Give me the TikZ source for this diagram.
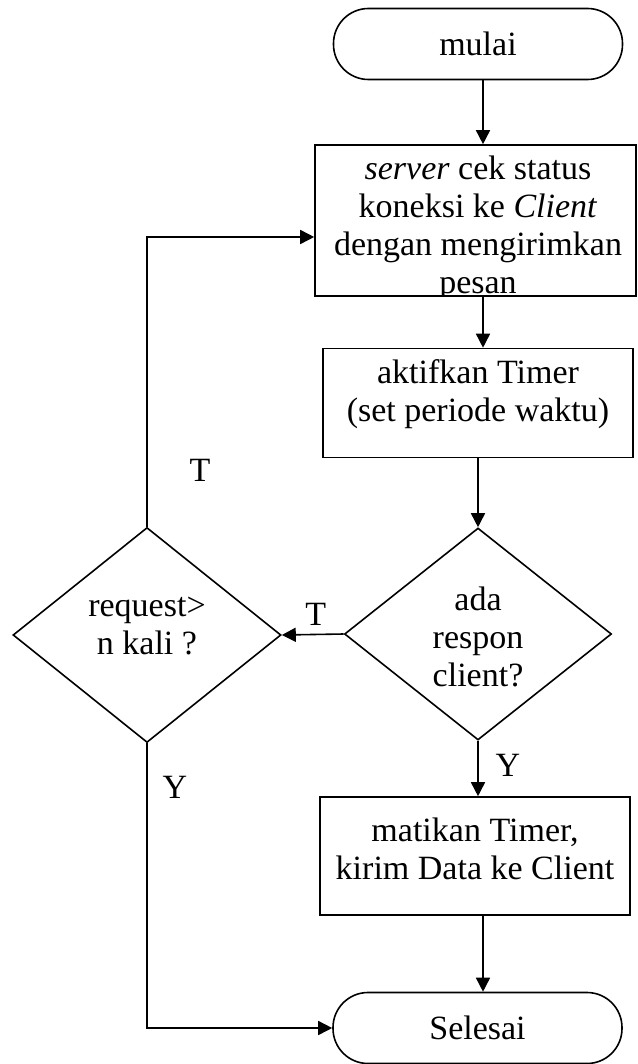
\documentclass[tikz,border=0pt]{standalone}
\usepackage{fontspec}
\setmainfont{Liberation Serif}
\usetikzlibrary{shapes.geometric,arrows.meta}
\begin{document}
\begin{tikzpicture}[x=1pt,y=-1pt,
  font=\fontsize{34}{38}\selectfont,
  box/.style={draw, line width=1.6pt, align=center, inner sep=0pt},
  term/.style={draw, line width=1.6pt, rounded corners=35pt, minimum width=289pt, minimum height=71pt, inner sep=0pt},
  dec/.style={draw, diamond, line width=1.6pt, inner sep=0pt},
  txt/.style={align=center, inner sep=0pt},
  arr/.style={line width=1.6pt, -{Triangle[length=14pt,width=14pt]}},
  lbl/.style={inner sep=0pt}]
\useasboundingbox (0,0) rectangle (637,1064);
\fill[white] (0,0) rectangle (637,1064);
% nodes
\node[term] (start) at (478,44) {mulai};
\node[box, minimum width=321pt, minimum height=151pt] (server) at (475.5,220.5) {};
\begin{scope}
  \clip (server.south west) rectangle (server.north east);
  \node[txt] (servertxt) at (478,228) {\textit{server} cek status\\koneksi ke \textit{Client}\\dengan mengirimkan\\pesan};
\end{scope}
\node[box, minimum width=310pt, minimum height=109pt] (aktif) at (478,403) {};
\node[txt] (aktiftxt) at (478,394) {aktifkan Timer\\(set periode waktu)};
\node[dec, minimum width=267pt, minimum height=212pt] (dec1) at (478,634) {};
\node[txt] (dec1txt) at (478,637) {ada\\respon\\client?};
\node[dec, minimum width=268pt, minimum height=215pt] (dec2) at (147,635) {};
\node[txt] (dec2txt) at (147,626) {request>\\n kali ?};
\node[box, minimum width=310pt, minimum height=118pt] (mati) at (475,856) {};
\node[txt] (matitxt) at (475,849) {matikan Timer,\\kirim Data ke Client};
\node[term] (end) at (477.5,1028) {Selesai};
% helper coordinates
\coordinate (a1) at (483,80);
\coordinate (a2) at (483,296);
\coordinate (a6) at (483,915);
\coordinate (lp1) at (148,237);
% connectors
\draw[arr] (a1) -- (a1 |- server.north);
\draw[arr] (a2) -- (a2 |- aktif.north);
\draw[arr] (aktif.south) -- (dec1.north);
\draw[arr] (dec1.west) -- (dec2.east) node[lbl, pos=0.45, above=8pt] (t1) {T};
\draw[arr] (dec1.south) -- (dec1.south |- mati.north);
\draw[arr] (a6) -- (a6 |- end.north);
\draw[arr] (dec2.north) |- (lp1 -| server.west);
\draw[arr] (dec2.south) |- (end.west);
\node[lbl] (t2) at (200,470) {T};
\node[lbl] (y1) at (508,765) {Y};
\node[lbl] (y2) at (175,787) {Y};
\end{tikzpicture}
\end{document}
